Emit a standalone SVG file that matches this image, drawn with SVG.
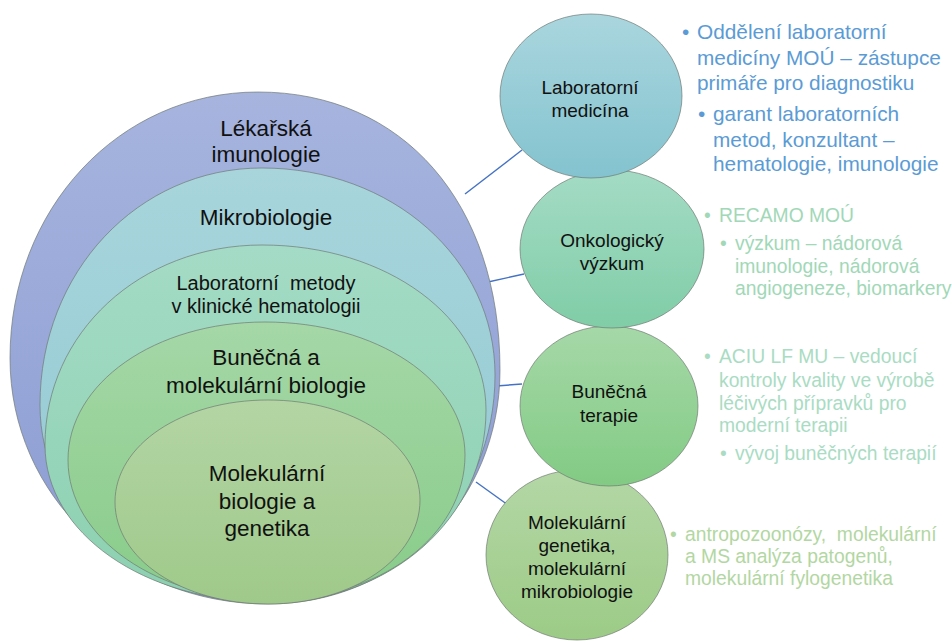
<svg xmlns="http://www.w3.org/2000/svg" width="952" height="642" viewBox="0 0 952 642">
<defs>
<linearGradient id="gBlue" x1="0" y1="0" x2="0" y2="1"><stop offset="0" stop-color="#A6B4DE"/><stop offset="1" stop-color="#8A9BD2"/></linearGradient>
<linearGradient id="gTeal" x1="0" y1="0" x2="0" y2="1"><stop offset="0" stop-color="#A8D5DC"/><stop offset="1" stop-color="#90C8D2"/></linearGradient>
<linearGradient id="gMint" x1="0" y1="0" x2="0" y2="1"><stop offset="0" stop-color="#A4DBC6"/><stop offset="1" stop-color="#8CD0B0"/></linearGradient>
<linearGradient id="gGreen" x1="0" y1="0" x2="0" y2="1"><stop offset="0" stop-color="#A5D7A7"/><stop offset="1" stop-color="#88CC89"/></linearGradient>
<linearGradient id="gLight" x1="0" y1="0" x2="0" y2="1"><stop offset="0" stop-color="#B3D5A4"/><stop offset="1" stop-color="#9FC98A"/></linearGradient>
<linearGradient id="sTeal" x1="0" y1="0" x2="0" y2="1"><stop offset="0" stop-color="#AAD6DE"/><stop offset="1" stop-color="#83C3CF"/></linearGradient>
<linearGradient id="sMint" x1="0" y1="0" x2="0" y2="1"><stop offset="0" stop-color="#A4DBC5"/><stop offset="1" stop-color="#80CDA7"/></linearGradient>
<linearGradient id="sGreen" x1="0" y1="0" x2="0" y2="1"><stop offset="0" stop-color="#A6D8A8"/><stop offset="1" stop-color="#82CB84"/></linearGradient>
<linearGradient id="sLight" x1="0" y1="0" x2="0" y2="1"><stop offset="0" stop-color="#B4D7A6"/><stop offset="1" stop-color="#9CCB86"/></linearGradient>
</defs>
<style>
.shape{stroke:#6E7670;stroke-width:0.8;stroke-opacity:0.85}
.conn{stroke:#4472C4;stroke-width:1.4;fill:none}
.lbl{font-family:"Liberation Sans",Arial,sans-serif;fill:#111;text-anchor:middle}
.big{font-size:22.5px}
.mid{font-size:20px}
.sat{font-size:19px}
.note{font-family:"Liberation Sans",Arial,sans-serif;font-size:19.3px}
.n1{fill:#5B9BD5;font-size:20.8px}
.n2{fill:#A1D8B7}
.n3{fill:#A9DCC3}
.n4{fill:#B2D7A2}
</style>
<rect width="952" height="642" fill="#FFFFFF"/>
<g id="connectors">
<line class="conn" x1="465" y1="194" x2="522" y2="150"/>
<line class="conn" x1="488" y1="282" x2="524" y2="274"/>
<line class="conn" x1="496" y1="386" x2="522" y2="384"/>
<line class="conn" x1="476" y1="482" x2="508" y2="505"/>
</g>
<g id="lekarska-imunologie">
<path class="shape" fill="url(#gBlue)" d="M10,358 C10,209 119,92 258,92 C403,92 500,203 500,370 C500,501 398,604 268,604 C124,604 10,496 10,358 Z"/>
<text class="lbl big" x="266" y="136">Lékařská</text>
<text class="lbl big" x="266" y="162">imunologie</text>
</g>
<g id="mikrobiologie">
<path class="shape" fill="url(#gTeal)" d="M40,405 C40,272 138,168 262,168 C392,168 495,259 495,375 C495,503 396,603 270,603 C141,603 40,516 40,405 Z"/>
<text class="lbl big" x="266" y="225">Mikrobiologie</text>
</g>
<g id="laboratorni-metody">
<path class="shape" fill="url(#gMint)" d="M45,445 C45,333 140,245 262,245 C387,245 486,318 486,410 C486,518 391,602 270,602 C144,602 45,533 45,445 Z"/>
<text class="lbl mid" x="266" y="290" xml:space="preserve">Laboratorní  metody</text>
<text class="lbl mid" x="266" y="313">v klinické hematologii</text>
</g>
<g id="bunecna-molekularni-biologie">
<path class="shape" fill="url(#gGreen)" d="M68,460 C68,383 155,322 265,322 C377,322 465,381 465,455 C465,536 379,600 270,600 C157,600 68,538 68,460 Z"/>
<text class="lbl big" x="266" y="365">Buněčná a</text>
<text class="lbl big" x="266" y="393">molekulární biologie</text>
</g>
<g id="molekularni-biologie-genetika">
<path class="shape" fill="url(#gLight)" d="M115,502 C115,445 182,400 268,400 C353,400 420,444 420,500 C420,558 353,604 268,604 C182,604 115,559 115,502 Z"/>
<text class="lbl big" x="267" y="481">Molekulární</text>
<text class="lbl big" x="267" y="509">biologie a</text>
<text class="lbl big" x="267" y="536">genetika</text>
</g>
<g id="molekularni-genetika">
<ellipse class="shape" fill="url(#sLight)" cx="577" cy="555" rx="91" ry="85"/>
<text class="lbl sat" x="577" y="529">Molekulární</text>
<text class="lbl sat" x="577" y="552">genetika,</text>
<text class="lbl sat" x="577" y="575">molekulární</text>
<text class="lbl sat" x="577" y="598">mikrobiologie</text>
</g>
<g id="bunecna-terapie">
<ellipse class="shape" fill="url(#sGreen)" cx="609" cy="406" rx="89" ry="80"/>
<text class="lbl sat" x="609" y="398">Buněčná</text>
<text class="lbl sat" x="609" y="422">terapie</text>
</g>
<g id="onkologicky-vyzkum">
<ellipse class="shape" fill="url(#sMint)" cx="612" cy="249" rx="92" ry="79"/>
<text class="lbl sat" x="612" y="247">Onkologický</text>
<text class="lbl sat" x="612" y="270">výzkum</text>
</g>
<g id="laboratorni-medicina">
<ellipse class="shape" fill="url(#sTeal)" cx="591" cy="96" rx="91" ry="82"/>
<text class="lbl sat" x="590" y="94">Laboratorní</text>
<text class="lbl sat" x="590" y="117">medicína</text>
</g>
<g id="note-laboratorni-medicina" class="note n1">
<text x="682" y="39">•</text>
<text x="697" y="39">Oddělení laboratorní</text>
<text x="697" y="65">medicíny MOÚ – zástupce</text>
<text x="697" y="90">primáře pro diagnostiku</text>
<text x="698" y="121">•</text>
<text x="713" y="121">garant laboratorních</text>
<text x="713" y="147">metod, konzultant –</text>
<text x="713" y="171">hematologie, imunologie</text>
</g>
<g id="note-onkologicky-vyzkum" class="note n2">
<text x="704" y="222">•</text>
<text x="719" y="222">RECAMO MOÚ</text>
<text x="720" y="250">•</text>
<text x="735" y="250">výzkum – nádorová</text>
<text x="735" y="273">imunologie, nádorová</text>
<text x="735" y="295">angiogeneze, biomarkery</text>
</g>
<g id="note-bunecna-terapie" class="note n3">
<text x="704" y="363">•</text>
<text x="719" y="363">ACIU LF MU – vedoucí</text>
<text x="719" y="387">kontroly kvality ve výrobě</text>
<text x="719" y="410">léčivých přípravků pro</text>
<text x="719" y="432">moderní terapii</text>
<text x="720" y="460">•</text>
<text x="735" y="460">vývoj buněčných terapií</text>
</g>
<g id="note-molekularni-genetika" class="note n4">
<text x="670" y="541">•</text>
<text x="685" y="541" xml:space="preserve">antropozoonózy,  molekulární</text>
<text x="685" y="563">a MS analýza patogenů,</text>
<text x="685" y="585">molekulární fylogenetika</text>
</g>
</svg>
